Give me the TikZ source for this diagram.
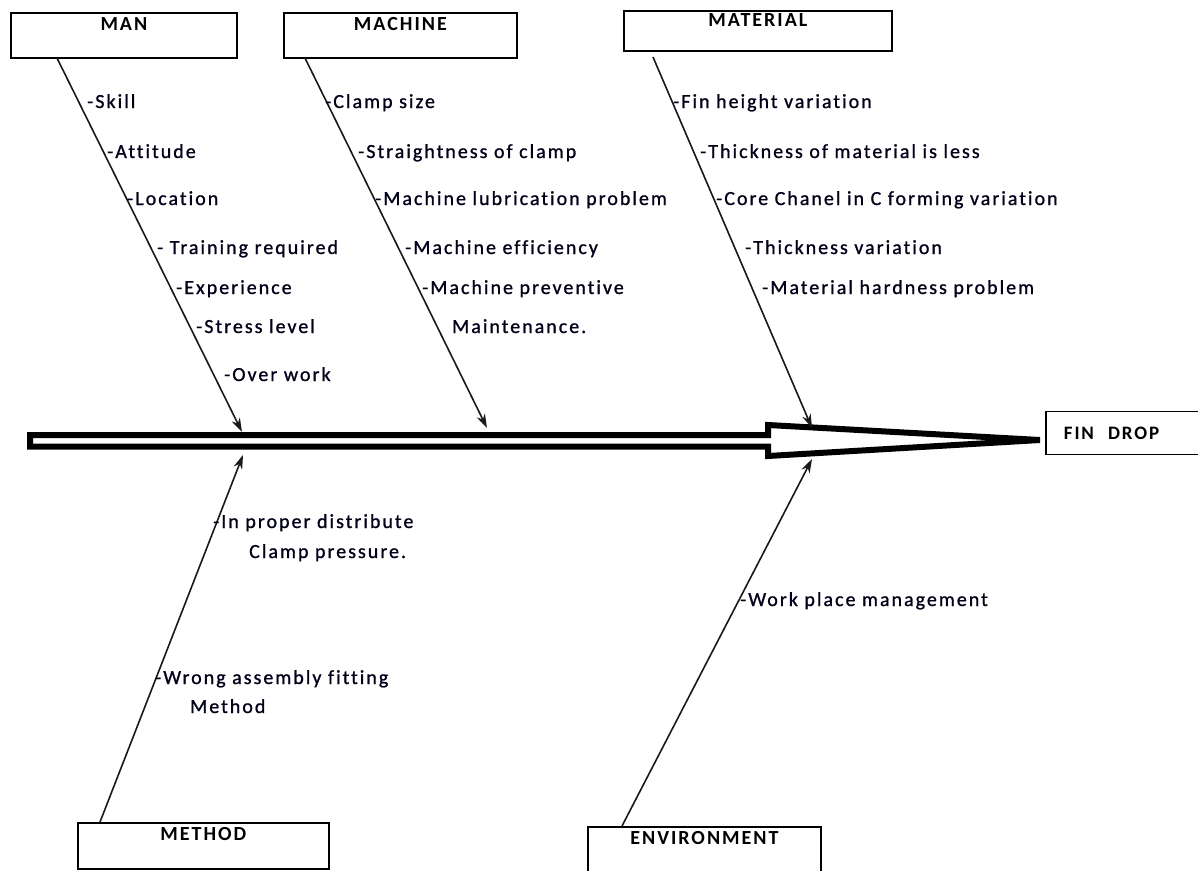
\documentclass[tikz,border=0pt]{standalone}
\usepackage{fontspec}
\setmainfont{Carlito}
\newfontfamily\labfont[LetterSpace=10, Ligatures=NoCommon, FakeBold=1]{Carlito}
\newfontfamily\boxfont[LetterSpace=10, Ligatures=NoCommon]{Carlito}
\usetikzlibrary{arrows.meta}
\tikzset{
  catbox/.style={draw, line width=1.8pt, inner xsep=0pt, inner ysep=0pt,
    minimum width=#1, text height=18pt, text depth=27pt, anchor=north west,
    font=\boxfont\bfseries\fontsize{20}{22}\selectfont},
  cause/.style={anchor=base west, inner sep=0pt, text=black!90!blue,
    font=\labfont\fontsize{20}{24}\selectfont},
  bone/.style={line width=1.6pt, draw=black!90, -{Stealth[length=14pt,width=9pt]}},
  spine/.style={line width=6pt, line join=miter, draw=black, fill=white}
}
\begin{document}
\begin{tikzpicture}[x=1pt,y=-1pt]
\useasboundingbox (0,0) rectangle (1198,870);

% category boxes
\node[catbox=226pt] (man) at (10,12) {MAN};
\node[catbox=233pt] (machine) at (283,12) {MACHINE};
\node[catbox=268pt, text height=16pt, text depth=24pt] (material) at (623,10) {MATERIAL};
\node[catbox=251pt, text height=18pt, text depth=28pt] (method) at (77,822) {METHOD};
\node[catbox=233pt, text height=18pt, text depth=30pt] (environment) at (587,826) {ENVIRONMENT};
\node[draw, line width=1.8pt, anchor=west, inner xsep=18pt, text width=150pt,
  minimum height=43pt, font=\boxfont\bfseries\fontsize{19}{20}\selectfont] (fin) at (1045,433) {FIN\hspace{14pt}DROP};

% spine (hollow block arrow)
\draw[spine] (30,435) -- (768,435) -- (768,425) -- (1040,440) -- (768,456) -- (768,446.5) -- (30,446.5) -- cycle;

% bone coordinates
\coordinate (manS) at (57,58);
\coordinate (manT) at (242,432);
\coordinate (macS) at (305,58);
\coordinate (macT) at (487,428);
\coordinate (matS) at (653,57);
\coordinate (matT) at (812,428);
\coordinate (metS) at (100,822);
\coordinate (metT) at (243,455);
\coordinate (envS) at (622,826);
\coordinate (envT) at (812,459);

\draw[bone] (manS) -- (manT);
\draw[bone] (macS) -- (macT);
\draw[bone] (matS) -- (matT);
\draw[bone] (metS) -- (metT);
\draw[bone] (envS) -- (envT);

% MAN causes
\node[cause] (m1) at (87,108) {-Skill};
\node[cause] (m2) at (107,158) {-Attitude};
\node[cause] (m3) at (127,205) {-Location};
\node[cause] (m4) at (157,254) {- Training required};
\node[cause] (m5) at (176,294) {-Experience};
\node[cause] (m6) at (196,333) {-Stress level};
\node[cause] (m7) at (224,381) {-Over work};

% MACHINE causes
\node[cause] (c1) at (325,108) {-Clamp size};
\node[cause] (c2) at (358,158) {-Straightness of clamp};
\node[cause] (c3) at (375,205) {-Machine lubrication problem};
\node[cause] (c4) at (405,254) {-Machine efficiency};
\node[cause] (c5) at (422,294) {-Machine preventive};
\node[cause] (c6) at (452,333) {Maintenance.};

% MATERIAL causes
\node[cause] (t1) at (673,108) {-Fin height variation};
\node[cause] (t2) at (700,158) {-Thickness of material is less};
\node[cause] (t3) at (716,205) {-Core Chanel in C forming variation};
\node[cause] (t4) at (745,254) {-Thickness variation};
\node[cause] (t5) at (762,294) {-Material hardness problem};

% METHOD causes
\node[cause] (d1) at (213,528) {-In proper distribute};
\node[cause] (d2) at (249,558) {Clamp pressure.};
\node[cause] (d3) at (155,684) {-Wrong assembly fitting};
\node[cause] (d4) at (190,713) {Method};

% ENVIRONMENT causes
\node[cause] (e1) at (740,606) {-Work place management};
\end{tikzpicture}
\end{document}
